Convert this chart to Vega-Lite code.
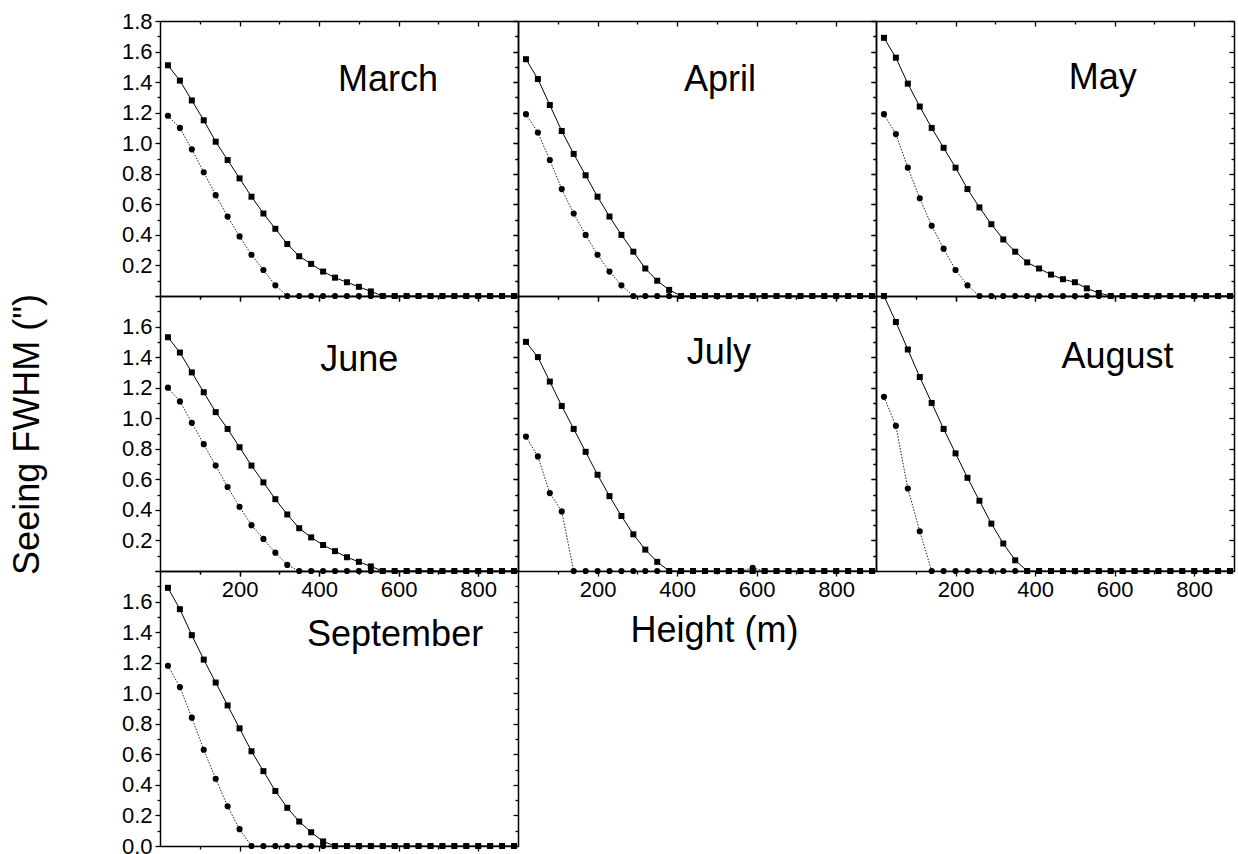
{
  "$schema": "https://vega.github.io/schema/vega-lite/v6.json",
  "padding": {"left": 9, "top": 10, "right": 5, "bottom": 5},
  "bounds": "flush",
  "spacing": 0,
  "columns": 3,
  "config": {
    "font": "Liberation Sans",
    "view": {"stroke": null},
    "axis": {"domainColor": "black", "domainWidth": 1.5, "tickColor": "black", "tickWidth": 1.3, "labelFont": "Liberation Sans", "labelFontSize": 22, "labelColor": "black", "grid": false, "labelOverlap": false, "labelFlush": false, "labelBound": false, "titleFont": "Liberation Sans", "titleFontSize": 36, "titleFontWeight": "normal", "titleColor": "black", "labelPadding": 3}
  },
  "data": {"name": "seeing"},
  "datasets": {
    "seeing": [
      {"m":"March","k":"sq","h":20,"v":1.51},{"m":"March","k":"sq","h":50,"v":1.41},{"m":"March","k":"sq","h":80,"v":1.28},{"m":"March","k":"sq","h":110,"v":1.15},{"m":"March","k":"sq","h":140,"v":1.01},{"m":"March","k":"sq","h":170,"v":0.89},{"m":"March","k":"sq","h":200,"v":0.77},{"m":"March","k":"sq","h":230,"v":0.65},{"m":"March","k":"sq","h":260,"v":0.54},{"m":"March","k":"sq","h":290,"v":0.44},{"m":"March","k":"sq","h":320,"v":0.34},{"m":"March","k":"sq","h":350,"v":0.26},{"m":"March","k":"sq","h":380,"v":0.21},{"m":"March","k":"sq","h":410,"v":0.16},{"m":"March","k":"sq","h":440,"v":0.12},{"m":"March","k":"sq","h":470,"v":0.09},{"m":"March","k":"sq","h":500,"v":0.06},{"m":"March","k":"sq","h":530,"v":0.03},{"m":"March","k":"sq","h":560,"v":0},{"m":"March","k":"sq","h":590,"v":0},{"m":"March","k":"sq","h":620,"v":0},{"m":"March","k":"sq","h":650,"v":0},{"m":"March","k":"sq","h":680,"v":0},{"m":"March","k":"sq","h":710,"v":0},{"m":"March","k":"sq","h":740,"v":0},{"m":"March","k":"sq","h":770,"v":0},{"m":"March","k":"sq","h":800,"v":0},{"m":"March","k":"sq","h":830,"v":0},{"m":"March","k":"sq","h":860,"v":0},{"m":"March","k":"sq","h":890,"v":0},
      {"m":"March","k":"ci","h":20,"v":1.18},{"m":"March","k":"ci","h":50,"v":1.10},{"m":"March","k":"ci","h":80,"v":0.96},{"m":"March","k":"ci","h":110,"v":0.81},{"m":"March","k":"ci","h":140,"v":0.66},{"m":"March","k":"ci","h":170,"v":0.52},{"m":"March","k":"ci","h":200,"v":0.39},{"m":"March","k":"ci","h":230,"v":0.27},{"m":"March","k":"ci","h":260,"v":0.17},{"m":"March","k":"ci","h":290,"v":0.07},{"m":"March","k":"ci","h":320,"v":0},{"m":"March","k":"ci","h":350,"v":0},{"m":"March","k":"ci","h":380,"v":0},{"m":"March","k":"ci","h":410,"v":0},{"m":"March","k":"ci","h":440,"v":0},{"m":"March","k":"ci","h":470,"v":0},{"m":"March","k":"ci","h":500,"v":0},{"m":"March","k":"ci","h":530,"v":0},{"m":"March","k":"ci","h":560,"v":0},{"m":"March","k":"ci","h":590,"v":0},{"m":"March","k":"ci","h":620,"v":0},{"m":"March","k":"ci","h":650,"v":0},{"m":"March","k":"ci","h":680,"v":0},{"m":"March","k":"ci","h":710,"v":0},{"m":"March","k":"ci","h":740,"v":0},{"m":"March","k":"ci","h":770,"v":0},{"m":"March","k":"ci","h":800,"v":0},{"m":"March","k":"ci","h":830,"v":0},{"m":"March","k":"ci","h":860,"v":0},{"m":"March","k":"ci","h":890,"v":0},
      {"m":"April","k":"sq","h":20,"v":1.55},{"m":"April","k":"sq","h":50,"v":1.42},{"m":"April","k":"sq","h":80,"v":1.25},{"m":"April","k":"sq","h":110,"v":1.08},{"m":"April","k":"sq","h":140,"v":0.93},{"m":"April","k":"sq","h":170,"v":0.79},{"m":"April","k":"sq","h":200,"v":0.65},{"m":"April","k":"sq","h":230,"v":0.52},{"m":"April","k":"sq","h":260,"v":0.40},{"m":"April","k":"sq","h":290,"v":0.29},{"m":"April","k":"sq","h":320,"v":0.18},{"m":"April","k":"sq","h":350,"v":0.10},{"m":"April","k":"sq","h":380,"v":0.04},{"m":"April","k":"sq","h":410,"v":0},{"m":"April","k":"sq","h":440,"v":0},{"m":"April","k":"sq","h":470,"v":0},{"m":"April","k":"sq","h":500,"v":0},{"m":"April","k":"sq","h":530,"v":0},{"m":"April","k":"sq","h":560,"v":0},{"m":"April","k":"sq","h":590,"v":0},{"m":"April","k":"sq","h":620,"v":0},{"m":"April","k":"sq","h":650,"v":0},{"m":"April","k":"sq","h":680,"v":0},{"m":"April","k":"sq","h":710,"v":0},{"m":"April","k":"sq","h":740,"v":0},{"m":"April","k":"sq","h":770,"v":0},{"m":"April","k":"sq","h":800,"v":0},{"m":"April","k":"sq","h":830,"v":0},{"m":"April","k":"sq","h":860,"v":0},{"m":"April","k":"sq","h":890,"v":0},
      {"m":"April","k":"ci","h":20,"v":1.19},{"m":"April","k":"ci","h":50,"v":1.07},{"m":"April","k":"ci","h":80,"v":0.89},{"m":"April","k":"ci","h":110,"v":0.70},{"m":"April","k":"ci","h":140,"v":0.54},{"m":"April","k":"ci","h":170,"v":0.40},{"m":"April","k":"ci","h":200,"v":0.27},{"m":"April","k":"ci","h":230,"v":0.16},{"m":"April","k":"ci","h":260,"v":0.07},{"m":"April","k":"ci","h":290,"v":0},{"m":"April","k":"ci","h":320,"v":0},{"m":"April","k":"ci","h":350,"v":0},{"m":"April","k":"ci","h":380,"v":0},{"m":"April","k":"ci","h":410,"v":0},{"m":"April","k":"ci","h":440,"v":0},{"m":"April","k":"ci","h":470,"v":0},{"m":"April","k":"ci","h":500,"v":0},{"m":"April","k":"ci","h":530,"v":0},{"m":"April","k":"ci","h":560,"v":0},{"m":"April","k":"ci","h":590,"v":0},{"m":"April","k":"ci","h":620,"v":0},{"m":"April","k":"ci","h":650,"v":0},{"m":"April","k":"ci","h":680,"v":0},{"m":"April","k":"ci","h":710,"v":0},{"m":"April","k":"ci","h":740,"v":0},{"m":"April","k":"ci","h":770,"v":0},{"m":"April","k":"ci","h":800,"v":0},{"m":"April","k":"ci","h":830,"v":0},{"m":"April","k":"ci","h":860,"v":0},{"m":"April","k":"ci","h":890,"v":0},
      {"m":"May","k":"sq","h":20,"v":1.69},{"m":"May","k":"sq","h":50,"v":1.56},{"m":"May","k":"sq","h":80,"v":1.39},{"m":"May","k":"sq","h":110,"v":1.24},{"m":"May","k":"sq","h":140,"v":1.10},{"m":"May","k":"sq","h":170,"v":0.97},{"m":"May","k":"sq","h":200,"v":0.84},{"m":"May","k":"sq","h":230,"v":0.70},{"m":"May","k":"sq","h":260,"v":0.58},{"m":"May","k":"sq","h":290,"v":0.47},{"m":"May","k":"sq","h":320,"v":0.37},{"m":"May","k":"sq","h":350,"v":0.29},{"m":"May","k":"sq","h":380,"v":0.22},{"m":"May","k":"sq","h":410,"v":0.18},{"m":"May","k":"sq","h":440,"v":0.14},{"m":"May","k":"sq","h":470,"v":0.11},{"m":"May","k":"sq","h":500,"v":0.09},{"m":"May","k":"sq","h":530,"v":0.05},{"m":"May","k":"sq","h":560,"v":0.02},{"m":"May","k":"sq","h":590,"v":0},{"m":"May","k":"sq","h":620,"v":0},{"m":"May","k":"sq","h":650,"v":0},{"m":"May","k":"sq","h":680,"v":0},{"m":"May","k":"sq","h":710,"v":0},{"m":"May","k":"sq","h":740,"v":0},{"m":"May","k":"sq","h":770,"v":0},{"m":"May","k":"sq","h":800,"v":0},{"m":"May","k":"sq","h":830,"v":0},{"m":"May","k":"sq","h":860,"v":0},{"m":"May","k":"sq","h":890,"v":0},
      {"m":"May","k":"ci","h":20,"v":1.19},{"m":"May","k":"ci","h":50,"v":1.06},{"m":"May","k":"ci","h":80,"v":0.84},{"m":"May","k":"ci","h":110,"v":0.64},{"m":"May","k":"ci","h":140,"v":0.46},{"m":"May","k":"ci","h":170,"v":0.31},{"m":"May","k":"ci","h":200,"v":0.17},{"m":"May","k":"ci","h":230,"v":0.07},{"m":"May","k":"ci","h":260,"v":0},{"m":"May","k":"ci","h":290,"v":0},{"m":"May","k":"ci","h":320,"v":0},{"m":"May","k":"ci","h":350,"v":0},{"m":"May","k":"ci","h":380,"v":0},{"m":"May","k":"ci","h":410,"v":0},{"m":"May","k":"ci","h":440,"v":0},{"m":"May","k":"ci","h":470,"v":0},{"m":"May","k":"ci","h":500,"v":0},{"m":"May","k":"ci","h":530,"v":0},{"m":"May","k":"ci","h":560,"v":0},{"m":"May","k":"ci","h":590,"v":0},{"m":"May","k":"ci","h":620,"v":0},{"m":"May","k":"ci","h":650,"v":0},{"m":"May","k":"ci","h":680,"v":0},{"m":"May","k":"ci","h":710,"v":0},{"m":"May","k":"ci","h":740,"v":0},{"m":"May","k":"ci","h":770,"v":0},{"m":"May","k":"ci","h":800,"v":0},{"m":"May","k":"ci","h":830,"v":0},{"m":"May","k":"ci","h":860,"v":0},{"m":"May","k":"ci","h":890,"v":0},
      {"m":"June","k":"sq","h":20,"v":1.53},{"m":"June","k":"sq","h":50,"v":1.43},{"m":"June","k":"sq","h":80,"v":1.30},{"m":"June","k":"sq","h":110,"v":1.17},{"m":"June","k":"sq","h":140,"v":1.04},{"m":"June","k":"sq","h":170,"v":0.93},{"m":"June","k":"sq","h":200,"v":0.81},{"m":"June","k":"sq","h":230,"v":0.69},{"m":"June","k":"sq","h":260,"v":0.58},{"m":"June","k":"sq","h":290,"v":0.47},{"m":"June","k":"sq","h":320,"v":0.37},{"m":"June","k":"sq","h":350,"v":0.28},{"m":"June","k":"sq","h":380,"v":0.22},{"m":"June","k":"sq","h":410,"v":0.17},{"m":"June","k":"sq","h":440,"v":0.13},{"m":"June","k":"sq","h":470,"v":0.09},{"m":"June","k":"sq","h":500,"v":0.06},{"m":"June","k":"sq","h":530,"v":0.03},{"m":"June","k":"sq","h":560,"v":0},{"m":"June","k":"sq","h":590,"v":0},{"m":"June","k":"sq","h":620,"v":0},{"m":"June","k":"sq","h":650,"v":0},{"m":"June","k":"sq","h":680,"v":0},{"m":"June","k":"sq","h":710,"v":0},{"m":"June","k":"sq","h":740,"v":0},{"m":"June","k":"sq","h":770,"v":0},{"m":"June","k":"sq","h":800,"v":0},{"m":"June","k":"sq","h":830,"v":0},{"m":"June","k":"sq","h":860,"v":0},{"m":"June","k":"sq","h":890,"v":0},
      {"m":"June","k":"ci","h":20,"v":1.20},{"m":"June","k":"ci","h":50,"v":1.11},{"m":"June","k":"ci","h":80,"v":0.97},{"m":"June","k":"ci","h":110,"v":0.83},{"m":"June","k":"ci","h":140,"v":0.69},{"m":"June","k":"ci","h":170,"v":0.55},{"m":"June","k":"ci","h":200,"v":0.42},{"m":"June","k":"ci","h":230,"v":0.30},{"m":"June","k":"ci","h":260,"v":0.21},{"m":"June","k":"ci","h":290,"v":0.12},{"m":"June","k":"ci","h":320,"v":0.04},{"m":"June","k":"ci","h":350,"v":0},{"m":"June","k":"ci","h":380,"v":0},{"m":"June","k":"ci","h":410,"v":0},{"m":"June","k":"ci","h":440,"v":0},{"m":"June","k":"ci","h":470,"v":0},{"m":"June","k":"ci","h":500,"v":0},{"m":"June","k":"ci","h":530,"v":0},{"m":"June","k":"ci","h":560,"v":0},{"m":"June","k":"ci","h":590,"v":0},{"m":"June","k":"ci","h":620,"v":0},{"m":"June","k":"ci","h":650,"v":0},{"m":"June","k":"ci","h":680,"v":0},{"m":"June","k":"ci","h":710,"v":0},{"m":"June","k":"ci","h":740,"v":0},{"m":"June","k":"ci","h":770,"v":0},{"m":"June","k":"ci","h":800,"v":0},{"m":"June","k":"ci","h":830,"v":0},{"m":"June","k":"ci","h":860,"v":0},{"m":"June","k":"ci","h":890,"v":0},
      {"m":"July","k":"sq","h":20,"v":1.50},{"m":"July","k":"sq","h":50,"v":1.40},{"m":"July","k":"sq","h":80,"v":1.24},{"m":"July","k":"sq","h":110,"v":1.08},{"m":"July","k":"sq","h":140,"v":0.93},{"m":"July","k":"sq","h":170,"v":0.78},{"m":"July","k":"sq","h":200,"v":0.63},{"m":"July","k":"sq","h":230,"v":0.49},{"m":"July","k":"sq","h":260,"v":0.36},{"m":"July","k":"sq","h":290,"v":0.24},{"m":"July","k":"sq","h":320,"v":0.14},{"m":"July","k":"sq","h":350,"v":0.06},{"m":"July","k":"sq","h":380,"v":0},{"m":"July","k":"sq","h":410,"v":0},{"m":"July","k":"sq","h":440,"v":0},{"m":"July","k":"sq","h":470,"v":0},{"m":"July","k":"sq","h":500,"v":0},{"m":"July","k":"sq","h":530,"v":0},{"m":"July","k":"sq","h":560,"v":0},{"m":"July","k":"sq","h":590,"v":0},{"m":"July","k":"sq","h":620,"v":0},{"m":"July","k":"sq","h":650,"v":0},{"m":"July","k":"sq","h":680,"v":0},{"m":"July","k":"sq","h":710,"v":0},{"m":"July","k":"sq","h":740,"v":0},{"m":"July","k":"sq","h":770,"v":0},{"m":"July","k":"sq","h":800,"v":0},{"m":"July","k":"sq","h":830,"v":0},{"m":"July","k":"sq","h":860,"v":0},{"m":"July","k":"sq","h":890,"v":0},
      {"m":"July","k":"ci","h":20,"v":0.88},{"m":"July","k":"ci","h":50,"v":0.75},{"m":"July","k":"ci","h":80,"v":0.51},{"m":"July","k":"ci","h":110,"v":0.39},{"m":"July","k":"ci","h":140,"v":0},{"m":"July","k":"ci","h":170,"v":0},{"m":"July","k":"ci","h":200,"v":0},{"m":"July","k":"ci","h":230,"v":0},{"m":"July","k":"ci","h":260,"v":0},{"m":"July","k":"ci","h":290,"v":0},{"m":"July","k":"ci","h":320,"v":0},{"m":"July","k":"ci","h":350,"v":0},{"m":"July","k":"ci","h":380,"v":0},{"m":"July","k":"ci","h":410,"v":0},{"m":"July","k":"ci","h":440,"v":0},{"m":"July","k":"ci","h":470,"v":0},{"m":"July","k":"ci","h":500,"v":0},{"m":"July","k":"ci","h":530,"v":0},{"m":"July","k":"ci","h":560,"v":0},{"m":"July","k":"ci","h":590,"v":0.02},{"m":"July","k":"ci","h":620,"v":0},{"m":"July","k":"ci","h":650,"v":0},{"m":"July","k":"ci","h":680,"v":0},{"m":"July","k":"ci","h":710,"v":0},{"m":"July","k":"ci","h":740,"v":0},{"m":"July","k":"ci","h":770,"v":0},{"m":"July","k":"ci","h":800,"v":0},{"m":"July","k":"ci","h":830,"v":0},{"m":"July","k":"ci","h":860,"v":0},{"m":"July","k":"ci","h":890,"v":0},
      {"m":"August","k":"sq","h":20,"v":1.80},{"m":"August","k":"sq","h":50,"v":1.63},{"m":"August","k":"sq","h":80,"v":1.45},{"m":"August","k":"sq","h":110,"v":1.27},{"m":"August","k":"sq","h":140,"v":1.10},{"m":"August","k":"sq","h":170,"v":0.93},{"m":"August","k":"sq","h":200,"v":0.77},{"m":"August","k":"sq","h":230,"v":0.61},{"m":"August","k":"sq","h":260,"v":0.46},{"m":"August","k":"sq","h":290,"v":0.31},{"m":"August","k":"sq","h":320,"v":0.18},{"m":"August","k":"sq","h":350,"v":0.07},{"m":"August","k":"sq","h":380,"v":0},{"m":"August","k":"sq","h":410,"v":0},{"m":"August","k":"sq","h":440,"v":0},{"m":"August","k":"sq","h":470,"v":0},{"m":"August","k":"sq","h":500,"v":0},{"m":"August","k":"sq","h":530,"v":0},{"m":"August","k":"sq","h":560,"v":0},{"m":"August","k":"sq","h":590,"v":0},{"m":"August","k":"sq","h":620,"v":0},{"m":"August","k":"sq","h":650,"v":0},{"m":"August","k":"sq","h":680,"v":0},{"m":"August","k":"sq","h":710,"v":0},{"m":"August","k":"sq","h":740,"v":0},{"m":"August","k":"sq","h":770,"v":0},{"m":"August","k":"sq","h":800,"v":0},{"m":"August","k":"sq","h":830,"v":0},{"m":"August","k":"sq","h":860,"v":0},{"m":"August","k":"sq","h":890,"v":0},
      {"m":"August","k":"ci","h":20,"v":1.14},{"m":"August","k":"ci","h":50,"v":0.95},{"m":"August","k":"ci","h":80,"v":0.54},{"m":"August","k":"ci","h":110,"v":0.26},{"m":"August","k":"ci","h":140,"v":0},{"m":"August","k":"ci","h":170,"v":0},{"m":"August","k":"ci","h":200,"v":0},{"m":"August","k":"ci","h":230,"v":0},{"m":"August","k":"ci","h":260,"v":0},{"m":"August","k":"ci","h":290,"v":0},{"m":"August","k":"ci","h":320,"v":0},{"m":"August","k":"ci","h":350,"v":0},{"m":"August","k":"ci","h":380,"v":0},{"m":"August","k":"ci","h":410,"v":0},{"m":"August","k":"ci","h":440,"v":0},{"m":"August","k":"ci","h":470,"v":0},{"m":"August","k":"ci","h":500,"v":0},{"m":"August","k":"ci","h":530,"v":0},{"m":"August","k":"ci","h":560,"v":0},{"m":"August","k":"ci","h":590,"v":0},{"m":"August","k":"ci","h":620,"v":0},{"m":"August","k":"ci","h":650,"v":0},{"m":"August","k":"ci","h":680,"v":0},{"m":"August","k":"ci","h":710,"v":0},{"m":"August","k":"ci","h":740,"v":0},{"m":"August","k":"ci","h":770,"v":0},{"m":"August","k":"ci","h":800,"v":0},{"m":"August","k":"ci","h":830,"v":0},{"m":"August","k":"ci","h":860,"v":0},{"m":"August","k":"ci","h":890,"v":0},
      {"m":"September","k":"sq","h":20,"v":1.69},{"m":"September","k":"sq","h":50,"v":1.55},{"m":"September","k":"sq","h":80,"v":1.38},{"m":"September","k":"sq","h":110,"v":1.22},{"m":"September","k":"sq","h":140,"v":1.07},{"m":"September","k":"sq","h":170,"v":0.92},{"m":"September","k":"sq","h":200,"v":0.77},{"m":"September","k":"sq","h":230,"v":0.62},{"m":"September","k":"sq","h":260,"v":0.49},{"m":"September","k":"sq","h":290,"v":0.36},{"m":"September","k":"sq","h":320,"v":0.25},{"m":"September","k":"sq","h":350,"v":0.16},{"m":"September","k":"sq","h":380,"v":0.09},{"m":"September","k":"sq","h":410,"v":0.03},{"m":"September","k":"sq","h":440,"v":0},{"m":"September","k":"sq","h":470,"v":0},{"m":"September","k":"sq","h":500,"v":0},{"m":"September","k":"sq","h":530,"v":0},{"m":"September","k":"sq","h":560,"v":0},{"m":"September","k":"sq","h":590,"v":0},{"m":"September","k":"sq","h":620,"v":0},{"m":"September","k":"sq","h":650,"v":0},{"m":"September","k":"sq","h":680,"v":0},{"m":"September","k":"sq","h":710,"v":0},{"m":"September","k":"sq","h":740,"v":0},{"m":"September","k":"sq","h":770,"v":0},{"m":"September","k":"sq","h":800,"v":0},{"m":"September","k":"sq","h":830,"v":0},{"m":"September","k":"sq","h":860,"v":0},{"m":"September","k":"sq","h":890,"v":0},
      {"m":"September","k":"ci","h":20,"v":1.18},{"m":"September","k":"ci","h":50,"v":1.04},{"m":"September","k":"ci","h":80,"v":0.84},{"m":"September","k":"ci","h":110,"v":0.63},{"m":"September","k":"ci","h":140,"v":0.44},{"m":"September","k":"ci","h":170,"v":0.26},{"m":"September","k":"ci","h":200,"v":0.11},{"m":"September","k":"ci","h":230,"v":0},{"m":"September","k":"ci","h":260,"v":0},{"m":"September","k":"ci","h":290,"v":0},{"m":"September","k":"ci","h":320,"v":0},{"m":"September","k":"ci","h":350,"v":0},{"m":"September","k":"ci","h":380,"v":0},{"m":"September","k":"ci","h":410,"v":0},{"m":"September","k":"ci","h":440,"v":0},{"m":"September","k":"ci","h":470,"v":0},{"m":"September","k":"ci","h":500,"v":0},{"m":"September","k":"ci","h":530,"v":0},{"m":"September","k":"ci","h":560,"v":0},{"m":"September","k":"ci","h":590,"v":0},{"m":"September","k":"ci","h":620,"v":0},{"m":"September","k":"ci","h":650,"v":0},{"m":"September","k":"ci","h":680,"v":0},{"m":"September","k":"ci","h":710,"v":0},{"m":"September","k":"ci","h":740,"v":0},{"m":"September","k":"ci","h":770,"v":0},{"m":"September","k":"ci","h":800,"v":0},{"m":"September","k":"ci","h":830,"v":0},{"m":"September","k":"ci","h":860,"v":0},{"m":"September","k":"ci","h":890,"v":0}
    ]
  },
  "concat": [
    {
      "width": 358, "height": 275,
      "resolve": {"axis": {"x": "independent", "y": "independent"}},
      "layer": [
        {"transform": [{"filter": "datum.m == 'March' && datum.k == 'sq'"}], "mark": {"type": "line", "color": "black", "strokeWidth": 1},
         "encoding": {"x": {"field": "h", "type": "quantitative", "title": null, "scale": {"domain": [0, 900], "nice": false}, "axis": {"orient": "bottom", "values": [100,200,300,400,500,600,700,800], "labels": false, "tickSize": {"condition": {"test": "datum.value % 200 == 0", "value": 5}, "value": 3}}},
                      "y": {"field": "v", "type": "quantitative", "title": null, "scale": {"domain": [0, 1.8], "nice": false}, "axis": {"orient": "left", "values": [0,0.1,0.2,0.3,0.4,0.5,0.6,0.7,0.8,0.9,1,1.1,1.2,1.3,1.4,1.5,1.6,1.7,1.8], "labelExpr": "datum.value > 0.05 && abs(datum.value*5 - round(datum.value*5)) < 0.001 ? format(datum.value, '.1f') : ''", "tickSize": {"condition": {"test": "abs(datum.value*5 - round(datum.value*5)) < 0.001", "value": 5}, "value": 3}}}}},
        {"transform": [{"filter": "datum.m == 'March' && datum.k == 'ci'"}], "mark": {"type": "line", "color": "#222222", "strokeWidth": 1, "strokeDash": [1.5, 1.5]},
         "encoding": {"x": {"field": "h", "type": "quantitative", "title": null, "axis": {"orient": "top", "values": [100,200,300,400,500,600,700,800], "labels": false, "tickSize": {"condition": {"test": "datum.value % 200 == 0", "value": -5}, "value": -3}}},
                      "y": {"field": "v", "type": "quantitative", "title": null, "axis": {"orient": "right", "values": [0,0.1,0.2,0.3,0.4,0.5,0.6,0.7,0.8,0.9,1,1.1,1.2,1.3,1.4,1.5,1.6,1.7,1.8], "labels": false, "tickSize": {"condition": {"test": "abs(datum.value*5 - round(datum.value*5)) < 0.001", "value": -5}, "value": -3}}}}},
        {"transform": [{"filter": "datum.m == 'March' && datum.k == 'sq'"}], "mark": {"type": "point", "shape": "square", "filled": true, "color": "black", "opacity": 1, "size": 36},
         "encoding": {"x": {"field": "h", "type": "quantitative", "axis": null}, "y": {"field": "v", "type": "quantitative", "axis": null}}},
        {"transform": [{"filter": "datum.m == 'March' && datum.k == 'ci'"}], "mark": {"type": "point", "shape": "circle", "filled": true, "color": "black", "opacity": 1, "size": 38},
         "encoding": {"x": {"field": "h", "type": "quantitative", "axis": null}, "y": {"field": "v", "type": "quantitative", "axis": null}}},
        {"data": {"values": [{}]}, "mark": {"type": "text", "text": "March", "font": "Liberation Sans", "fontSize": 36, "align": "center", "baseline": "alphabetic", "color": "black"},
         "encoding": {"x": {"datum": 573, "type": "quantitative", "axis": null}, "y": {"datum": 1.342, "type": "quantitative", "axis": null}}}
      ]
    },
    {
      "width": 358, "height": 275,
      "resolve": {"axis": {"x": "independent", "y": "independent"}},
      "layer": [
        {"transform": [{"filter": "datum.m == 'April' && datum.k == 'sq'"}], "mark": {"type": "line", "color": "black", "strokeWidth": 1},
         "encoding": {"x": {"field": "h", "type": "quantitative", "title": null, "scale": {"domain": [0, 900], "nice": false}, "axis": {"orient": "bottom", "values": [100,200,300,400,500,600,700,800], "labels": false, "tickSize": {"condition": {"test": "datum.value % 200 == 0", "value": 5}, "value": 3}}},
                      "y": {"field": "v", "type": "quantitative", "title": null, "scale": {"domain": [0, 1.8], "nice": false}, "axis": {"orient": "left", "values": [0,0.1,0.2,0.3,0.4,0.5,0.6,0.7,0.8,0.9,1,1.1,1.2,1.3,1.4,1.5,1.6,1.7,1.8], "labels": false, "tickSize": {"condition": {"test": "abs(datum.value*5 - round(datum.value*5)) < 0.001", "value": 5}, "value": 3}}}}},
        {"transform": [{"filter": "datum.m == 'April' && datum.k == 'ci'"}], "mark": {"type": "line", "color": "#222222", "strokeWidth": 1, "strokeDash": [1.5, 1.5]},
         "encoding": {"x": {"field": "h", "type": "quantitative", "title": null, "axis": {"orient": "top", "values": [100,200,300,400,500,600,700,800], "labels": false, "tickSize": {"condition": {"test": "datum.value % 200 == 0", "value": -5}, "value": -3}}},
                      "y": {"field": "v", "type": "quantitative", "title": null, "axis": {"orient": "right", "values": [0,0.1,0.2,0.3,0.4,0.5,0.6,0.7,0.8,0.9,1,1.1,1.2,1.3,1.4,1.5,1.6,1.7,1.8], "labels": false, "tickSize": {"condition": {"test": "abs(datum.value*5 - round(datum.value*5)) < 0.001", "value": -5}, "value": -3}}}}},
        {"transform": [{"filter": "datum.m == 'April' && datum.k == 'sq'"}], "mark": {"type": "point", "shape": "square", "filled": true, "color": "black", "opacity": 1, "size": 36},
         "encoding": {"x": {"field": "h", "type": "quantitative", "axis": null}, "y": {"field": "v", "type": "quantitative", "axis": null}}},
        {"transform": [{"filter": "datum.m == 'April' && datum.k == 'ci'"}], "mark": {"type": "point", "shape": "circle", "filled": true, "color": "black", "opacity": 1, "size": 38},
         "encoding": {"x": {"field": "h", "type": "quantitative", "axis": null}, "y": {"field": "v", "type": "quantitative", "axis": null}}},
        {"data": {"values": [{}]}, "mark": {"type": "text", "text": "April", "font": "Liberation Sans", "fontSize": 36, "align": "center", "baseline": "alphabetic", "color": "black"},
         "encoding": {"x": {"datum": 508, "type": "quantitative", "axis": null}, "y": {"datum": 1.342, "type": "quantitative", "axis": null}}}
      ]
    },
    {
      "width": 358, "height": 275,
      "resolve": {"axis": {"x": "independent", "y": "independent"}},
      "layer": [
        {"transform": [{"filter": "datum.m == 'May' && datum.k == 'sq'"}], "mark": {"type": "line", "color": "black", "strokeWidth": 1},
         "encoding": {"x": {"field": "h", "type": "quantitative", "title": null, "scale": {"domain": [0, 900], "nice": false}, "axis": {"orient": "bottom", "values": [100,200,300,400,500,600,700,800], "labels": false, "tickSize": {"condition": {"test": "datum.value % 200 == 0", "value": 5}, "value": 3}}},
                      "y": {"field": "v", "type": "quantitative", "title": null, "scale": {"domain": [0, 1.8], "nice": false}, "axis": {"orient": "left", "values": [0,0.1,0.2,0.3,0.4,0.5,0.6,0.7,0.8,0.9,1,1.1,1.2,1.3,1.4,1.5,1.6,1.7,1.8], "labels": false, "tickSize": {"condition": {"test": "abs(datum.value*5 - round(datum.value*5)) < 0.001", "value": 5}, "value": 3}}}}},
        {"transform": [{"filter": "datum.m == 'May' && datum.k == 'ci'"}], "mark": {"type": "line", "color": "#222222", "strokeWidth": 1, "strokeDash": [1.5, 1.5]},
         "encoding": {"x": {"field": "h", "type": "quantitative", "title": null, "axis": {"orient": "top", "values": [100,200,300,400,500,600,700,800], "labels": false, "tickSize": {"condition": {"test": "datum.value % 200 == 0", "value": -5}, "value": -3}}},
                      "y": {"field": "v", "type": "quantitative", "title": null, "axis": {"orient": "right", "values": [0,0.1,0.2,0.3,0.4,0.5,0.6,0.7,0.8,0.9,1,1.1,1.2,1.3,1.4,1.5,1.6,1.7,1.8], "labels": false, "tickSize": {"condition": {"test": "abs(datum.value*5 - round(datum.value*5)) < 0.001", "value": -5}, "value": -3}}}}},
        {"transform": [{"filter": "datum.m == 'May' && datum.k == 'sq'"}], "mark": {"type": "point", "shape": "square", "filled": true, "color": "black", "opacity": 1, "size": 36},
         "encoding": {"x": {"field": "h", "type": "quantitative", "axis": null}, "y": {"field": "v", "type": "quantitative", "axis": null}}},
        {"transform": [{"filter": "datum.m == 'May' && datum.k == 'ci'"}], "mark": {"type": "point", "shape": "circle", "filled": true, "color": "black", "opacity": 1, "size": 38},
         "encoding": {"x": {"field": "h", "type": "quantitative", "axis": null}, "y": {"field": "v", "type": "quantitative", "axis": null}}},
        {"data": {"values": [{}]}, "mark": {"type": "text", "text": "May", "font": "Liberation Sans", "fontSize": 36, "align": "center", "baseline": "alphabetic", "color": "black"},
         "encoding": {"x": {"datum": 570, "type": "quantitative", "axis": null}, "y": {"datum": 1.352, "type": "quantitative", "axis": null}}}
      ]
    },
    {
      "width": 358, "height": 275,
      "resolve": {"axis": {"x": "independent", "y": "independent"}},
      "layer": [
        {"transform": [{"filter": "datum.m == 'June' && datum.k == 'sq'"}], "mark": {"type": "line", "color": "black", "strokeWidth": 1},
         "encoding": {"x": {"field": "h", "type": "quantitative", "title": null, "scale": {"domain": [0, 900], "nice": false}, "axis": {"orient": "bottom", "values": [100,200,300,400,500,600,700,800], "labelExpr": "datum.value % 200 == 0 ? datum.label : ''", "tickSize": {"condition": {"test": "datum.value % 200 == 0", "value": 5}, "value": 3}}},
                      "y": {"field": "v", "type": "quantitative", "scale": {"domain": [0, 1.8], "nice": false}, "axis": {"orient": "left", "values": [0,0.1,0.2,0.3,0.4,0.5,0.6,0.7,0.8,0.9,1,1.1,1.2,1.3,1.4,1.5,1.6,1.7,1.8], "labelExpr": "datum.value > 0.05 && datum.value < 1.75 && abs(datum.value*5 - round(datum.value*5)) < 0.001 ? format(datum.value, '.1f') : ''", "tickSize": {"condition": {"test": "abs(datum.value*5 - round(datum.value*5)) < 0.001", "value": 5}, "value": 3}, "title": "Seeing FWHM (\")", "titleAngle": -90, "titleX": -122, "titleY": 138, "titleAlign": "center", "titleBaseline": "alphabetic"}}}},
        {"transform": [{"filter": "datum.m == 'June' && datum.k == 'ci'"}], "mark": {"type": "line", "color": "#222222", "strokeWidth": 1, "strokeDash": [1.5, 1.5]},
         "encoding": {"x": {"field": "h", "type": "quantitative", "title": null, "axis": {"orient": "top", "values": [100,200,300,400,500,600,700,800], "labels": false, "tickSize": {"condition": {"test": "datum.value % 200 == 0", "value": -5}, "value": -3}}},
                      "y": {"field": "v", "type": "quantitative", "title": null, "axis": {"orient": "right", "values": [0,0.1,0.2,0.3,0.4,0.5,0.6,0.7,0.8,0.9,1,1.1,1.2,1.3,1.4,1.5,1.6,1.7,1.8], "labels": false, "tickSize": {"condition": {"test": "abs(datum.value*5 - round(datum.value*5)) < 0.001", "value": -5}, "value": -3}}}}},
        {"transform": [{"filter": "datum.m == 'June' && datum.k == 'sq'"}], "mark": {"type": "point", "shape": "square", "filled": true, "color": "black", "opacity": 1, "size": 36},
         "encoding": {"x": {"field": "h", "type": "quantitative", "axis": null}, "y": {"field": "v", "type": "quantitative", "axis": null}}},
        {"transform": [{"filter": "datum.m == 'June' && datum.k == 'ci'"}], "mark": {"type": "point", "shape": "circle", "filled": true, "color": "black", "opacity": 1, "size": 38},
         "encoding": {"x": {"field": "h", "type": "quantitative", "axis": null}, "y": {"field": "v", "type": "quantitative", "axis": null}}},
        {"data": {"values": [{}]}, "mark": {"type": "text", "text": "June", "font": "Liberation Sans", "fontSize": 36, "align": "center", "baseline": "alphabetic", "color": "black"},
         "encoding": {"x": {"datum": 501, "type": "quantitative", "axis": null}, "y": {"datum": 1.307, "type": "quantitative", "axis": null}}}
      ]
    },
    {
      "width": 358, "height": 275,
      "resolve": {"axis": {"x": "independent", "y": "independent"}},
      "layer": [
        {"transform": [{"filter": "datum.m == 'July' && datum.k == 'sq'"}], "mark": {"type": "line", "color": "black", "strokeWidth": 1},
         "encoding": {"x": {"field": "h", "type": "quantitative", "scale": {"domain": [0, 900], "nice": false}, "axis": {"orient": "bottom", "values": [100,200,300,400,500,600,700,800], "labelExpr": "datum.value % 200 == 0 ? datum.label : ''", "tickSize": {"condition": {"test": "datum.value % 200 == 0", "value": 5}, "value": 3}, "title": "Height (m)", "titleX": 196, "titleY": 70, "titleAlign": "center", "titleBaseline": "alphabetic"}},
                      "y": {"field": "v", "type": "quantitative", "title": null, "scale": {"domain": [0, 1.8], "nice": false}, "axis": {"orient": "left", "values": [0,0.1,0.2,0.3,0.4,0.5,0.6,0.7,0.8,0.9,1,1.1,1.2,1.3,1.4,1.5,1.6,1.7,1.8], "labels": false, "tickSize": {"condition": {"test": "abs(datum.value*5 - round(datum.value*5)) < 0.001", "value": 5}, "value": 3}}}}},
        {"transform": [{"filter": "datum.m == 'July' && datum.k == 'ci'"}], "mark": {"type": "line", "color": "#222222", "strokeWidth": 1, "strokeDash": [1.5, 1.5]},
         "encoding": {"x": {"field": "h", "type": "quantitative", "title": null, "axis": {"orient": "top", "values": [100,200,300,400,500,600,700,800], "labels": false, "tickSize": {"condition": {"test": "datum.value % 200 == 0", "value": -5}, "value": -3}}},
                      "y": {"field": "v", "type": "quantitative", "title": null, "axis": {"orient": "right", "values": [0,0.1,0.2,0.3,0.4,0.5,0.6,0.7,0.8,0.9,1,1.1,1.2,1.3,1.4,1.5,1.6,1.7,1.8], "labels": false, "tickSize": {"condition": {"test": "abs(datum.value*5 - round(datum.value*5)) < 0.001", "value": -5}, "value": -3}}}}},
        {"transform": [{"filter": "datum.m == 'July' && datum.k == 'sq'"}], "mark": {"type": "point", "shape": "square", "filled": true, "color": "black", "opacity": 1, "size": 36},
         "encoding": {"x": {"field": "h", "type": "quantitative", "axis": null}, "y": {"field": "v", "type": "quantitative", "axis": null}}},
        {"transform": [{"filter": "datum.m == 'July' && datum.k == 'ci'"}], "mark": {"type": "point", "shape": "circle", "filled": true, "color": "black", "opacity": 1, "size": 38},
         "encoding": {"x": {"field": "h", "type": "quantitative", "axis": null}, "y": {"field": "v", "type": "quantitative", "axis": null}}},
        {"data": {"values": [{}]}, "mark": {"type": "text", "text": "July", "font": "Liberation Sans", "fontSize": 36, "align": "center", "baseline": "alphabetic", "color": "black"},
         "encoding": {"x": {"datum": 505, "type": "quantitative", "axis": null}, "y": {"datum": 1.353, "type": "quantitative", "axis": null}}}
      ]
    },
    {
      "width": 358, "height": 275,
      "resolve": {"axis": {"x": "independent", "y": "independent"}},
      "layer": [
        {"transform": [{"filter": "datum.m == 'August' && datum.k == 'sq'"}], "mark": {"type": "line", "color": "black", "strokeWidth": 1},
         "encoding": {"x": {"field": "h", "type": "quantitative", "title": null, "scale": {"domain": [0, 900], "nice": false}, "axis": {"orient": "bottom", "values": [100,200,300,400,500,600,700,800], "labelExpr": "datum.value % 200 == 0 ? datum.label : ''", "tickSize": {"condition": {"test": "datum.value % 200 == 0", "value": 5}, "value": 3}}},
                      "y": {"field": "v", "type": "quantitative", "title": null, "scale": {"domain": [0, 1.8], "nice": false}, "axis": {"orient": "left", "values": [0,0.1,0.2,0.3,0.4,0.5,0.6,0.7,0.8,0.9,1,1.1,1.2,1.3,1.4,1.5,1.6,1.7,1.8], "labels": false, "tickSize": {"condition": {"test": "abs(datum.value*5 - round(datum.value*5)) < 0.001", "value": 5}, "value": 3}}}}},
        {"transform": [{"filter": "datum.m == 'August' && datum.k == 'ci'"}], "mark": {"type": "line", "color": "#222222", "strokeWidth": 1, "strokeDash": [1.5, 1.5]},
         "encoding": {"x": {"field": "h", "type": "quantitative", "title": null, "axis": {"orient": "top", "values": [100,200,300,400,500,600,700,800], "labels": false, "tickSize": {"condition": {"test": "datum.value % 200 == 0", "value": -5}, "value": -3}}},
                      "y": {"field": "v", "type": "quantitative", "title": null, "axis": {"orient": "right", "values": [0,0.1,0.2,0.3,0.4,0.5,0.6,0.7,0.8,0.9,1,1.1,1.2,1.3,1.4,1.5,1.6,1.7,1.8], "labels": false, "tickSize": {"condition": {"test": "abs(datum.value*5 - round(datum.value*5)) < 0.001", "value": -5}, "value": -3}}}}},
        {"transform": [{"filter": "datum.m == 'August' && datum.k == 'sq'"}], "mark": {"type": "point", "shape": "square", "filled": true, "color": "black", "opacity": 1, "size": 36},
         "encoding": {"x": {"field": "h", "type": "quantitative", "axis": null}, "y": {"field": "v", "type": "quantitative", "axis": null}}},
        {"transform": [{"filter": "datum.m == 'August' && datum.k == 'ci'"}], "mark": {"type": "point", "shape": "circle", "filled": true, "color": "black", "opacity": 1, "size": 38},
         "encoding": {"x": {"field": "h", "type": "quantitative", "axis": null}, "y": {"field": "v", "type": "quantitative", "axis": null}}},
        {"data": {"values": [{}]}, "mark": {"type": "text", "text": "August", "font": "Liberation Sans", "fontSize": 36, "align": "center", "baseline": "alphabetic", "color": "black"},
         "encoding": {"x": {"datum": 607, "type": "quantitative", "axis": null}, "y": {"datum": 1.327, "type": "quantitative", "axis": null}}}
      ]
    },
    {
      "width": 358, "height": 275,
      "resolve": {"axis": {"x": "independent", "y": "independent"}},
      "layer": [
        {"transform": [{"filter": "datum.m == 'September' && datum.k == 'sq'"}], "mark": {"type": "line", "color": "black", "strokeWidth": 1},
         "encoding": {"x": {"field": "h", "type": "quantitative", "title": null, "scale": {"domain": [0, 900], "nice": false}, "axis": {"orient": "bottom", "values": [100,200,300,400,500,600,700,800], "labels": false, "tickSize": {"condition": {"test": "datum.value % 200 == 0", "value": 5}, "value": 3}}},
                      "y": {"field": "v", "type": "quantitative", "title": null, "scale": {"domain": [0, 1.8], "nice": false}, "axis": {"orient": "left", "values": [0,0.1,0.2,0.3,0.4,0.5,0.6,0.7,0.8,0.9,1,1.1,1.2,1.3,1.4,1.5,1.6,1.7,1.8], "labelExpr": "datum.value < 1.75 && abs(datum.value*5 - round(datum.value*5)) < 0.001 ? format(datum.value, '.1f') : ''", "tickSize": {"condition": {"test": "abs(datum.value*5 - round(datum.value*5)) < 0.001", "value": 5}, "value": 3}}}}},
        {"transform": [{"filter": "datum.m == 'September' && datum.k == 'ci'"}], "mark": {"type": "line", "color": "#222222", "strokeWidth": 1, "strokeDash": [1.5, 1.5]},
         "encoding": {"x": {"field": "h", "type": "quantitative", "title": null, "axis": {"orient": "top", "values": [100,200,300,400,500,600,700,800], "labels": false, "tickSize": {"condition": {"test": "datum.value % 200 == 0", "value": -5}, "value": -3}}},
                      "y": {"field": "v", "type": "quantitative", "title": null, "axis": {"orient": "right", "values": [0,0.1,0.2,0.3,0.4,0.5,0.6,0.7,0.8,0.9,1,1.1,1.2,1.3,1.4,1.5,1.6,1.7,1.8], "labels": false, "tickSize": {"condition": {"test": "abs(datum.value*5 - round(datum.value*5)) < 0.001", "value": -5}, "value": -3}}}}},
        {"transform": [{"filter": "datum.m == 'September' && datum.k == 'sq'"}], "mark": {"type": "point", "shape": "square", "filled": true, "color": "black", "opacity": 1, "size": 36},
         "encoding": {"x": {"field": "h", "type": "quantitative", "axis": null}, "y": {"field": "v", "type": "quantitative", "axis": null}}},
        {"transform": [{"filter": "datum.m == 'September' && datum.k == 'ci'"}], "mark": {"type": "point", "shape": "circle", "filled": true, "color": "black", "opacity": 1, "size": 38},
         "encoding": {"x": {"field": "h", "type": "quantitative", "axis": null}, "y": {"field": "v", "type": "quantitative", "axis": null}}},
        {"data": {"values": [{}]}, "mark": {"type": "text", "text": "September", "font": "Liberation Sans", "fontSize": 36, "align": "center", "baseline": "alphabetic", "color": "black"},
         "encoding": {"x": {"datum": 591, "type": "quantitative", "axis": null}, "y": {"datum": 1.307, "type": "quantitative", "axis": null}}}
      ]
    }
  ]
}
